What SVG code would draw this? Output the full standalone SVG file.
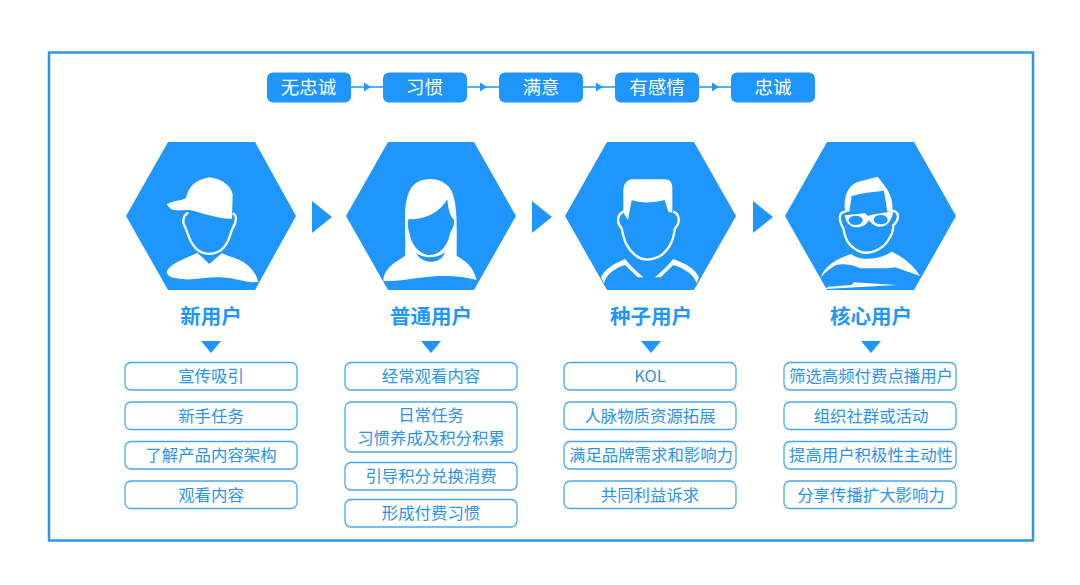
<svg xmlns="http://www.w3.org/2000/svg" width="1080" height="585" viewBox="0 0 1080 585">
<style>
text{font-family:"Noto Sans CJK SC","Noto Sans",sans-serif;text-anchor:middle}
.pill{fill:#1e96fc}
.pt{fill:#fff;font-size:18.500px}
.ttl{fill:#1e96fc;font-size:20.500px;font-weight:700}
.box{fill:#fff;stroke:#4aa8ee;stroke-width:1.300}
.it{fill:#2c94e8;font-size:16.400px}
.hex{fill:#1e96fc}
.w{fill:#fff}
.b{fill:#1e96fc}
.ring{fill:#1e96fc;stroke:#fff;stroke-width:7}
.tri{fill:#1e96fc}
.ln{stroke:#1e96fc;stroke-width:1.500;fill:none}
</style>
<rect x="49" y="52.500" width="984" height="488" fill="#fff" stroke="#2a9ae8" stroke-width="2.500"/>
<g id="connectors">
<path class="ln" d="M351 87H383M467 87H499M583 87H615M699 87H731"/>
<path class="tri" d="M364 82.500L371 87L364 91.500ZM480 82.500L487 87L480 91.500ZM596 82.500L603 87L596 91.500ZM712 82.500L719 87L712 91.500Z"/>
<path class="tri" d="M312 201L332 217L312 233ZM532 201L552 217L532 233ZM753 201L773 217L753 233Z"/>
<path class="tri" d="M201 341H221L211 353ZM421 341H441L431 353ZM641 341H661L651 353ZM861 341H881L871 353Z"/>
</g>
<g id="stage-1"><rect class="pill" x="267" y="72.500" width="84" height="30" rx="6"/><text class="pt" x="308.500" y="94">无忠诚</text></g>
<g id="stage-2"><rect class="pill" x="383" y="72.500" width="84" height="30" rx="6"/><text class="pt" x="424.500" y="94">习惯</text></g>
<g id="stage-3"><rect class="pill" x="499" y="72.500" width="84" height="30" rx="6"/><text class="pt" x="541" y="94">满意</text></g>
<g id="stage-4"><rect class="pill" x="615" y="72.500" width="84" height="30" rx="6"/><text class="pt" x="657" y="94">有感情</text></g>
<g id="stage-5"><rect class="pill" x="731" y="72.500" width="84" height="30" rx="6"/><text class="pt" x="773" y="94">忠诚</text></g>

<g id="new-user">
<path class="hex" d="M168 142H255L296 216L255 290H168L126 216Z"/>
<g transform="translate(120 130) scale(.3333)">
<path class="w" d="M140 425C150 400 190 390 232 368L268 402L305 370C340 385 395 390 415 455C380 462 360 445 300 442C260 440 210 455 170 445C150 442 140 435 140 425Z"/>
<path class="ring" d="M205 248C190 255 185 275 195 290C205 310 205 330 225 352C245 378 290 378 312 352C330 330 330 310 338 295C350 275 352 255 338 250"/>
<path class="w" d="M140 222C165 212 190 210 198 205C205 170 225 150 268 142C300 145 335 165 338 195L336 266C300 268 250 250 210 240C190 240 160 245 150 235Z"/>
</g>
<text class="ttl" x="211" y="324">新用户</text>
<rect class="box" x="125" y="362.500" width="172" height="27.500" rx="6"/><text class="it" x="211" y="382">宣传吸引</text>
<rect class="box" x="125" y="402" width="172" height="27.500" rx="6"/><text class="it" x="211" y="421.500">新手任务</text>
<rect class="box" x="125" y="441.500" width="172" height="27.500" rx="6"/><text class="it" x="211" y="461">了解产品内容架构</text>
<rect class="box" x="125" y="481" width="172" height="27.500" rx="6"/><text class="it" x="211" y="500.500">观看内容</text>
</g>

<g id="regular-user">
<path class="hex" d="M388 142H474L516 216L474 290H388L346 216Z"/>
<g transform="translate(120 130) scale(.3333)">
<path class="w" d="M790 450C795 410 830 395 855 378C860 300 845 230 870 180C890 140 960 135 990 175C1015 210 1010 300 1010 378C1040 395 1060 410 1070 450C1020 435 960 435 900 443C860 448 820 455 790 452Z"/>
<path class="b" d="M865 268C920 270 960 245 982 208C985 240 990 260 1003 270C1003 290 995 300 990 310C985 345 960 375 930 375C900 375 875 345 870 315C865 300 862 285 865 268Z"/>
<path class="b" d="M888 368C905 385 950 388 975 366C965 405 905 405 888 368Z"/>
</g>
<text class="ttl" x="431" y="324">普通用户</text>
<rect class="box" x="345" y="362.500" width="172" height="27.500" rx="6"/><text class="it" x="431" y="382">经常观看内容</text>
<rect class="box" x="345" y="402" width="172" height="50" rx="6" stroke-width="1.800"/><text class="it" x="431" y="421">日常任务</text><text class="it" x="431" y="444">习惯养成及积分积累</text>
<rect class="box" x="345" y="462.500" width="172" height="27.500" rx="6"/><text class="it" x="431" y="482">引导积分兑换消费</text>
<rect class="box" x="345" y="499.500" width="172" height="27.500" rx="6"/><text class="it" x="431" y="519">形成付费习惯</text>
</g>

<g id="seed-user">
<path class="hex" d="M607 142H694L736 216L694 290H607L565 216Z"/>
<g transform="translate(590 170) scale(.3333)">
<path class="w" d="M33 322C45 295 75 280 105 267L130 295L160 322L143 322L105 285C75 295 50 310 42 340Z"/>
<path class="w" d="M327 322C315 295 285 280 250 267L225 295L195 322L212 322L250 285C280 295 310 310 320 340Z"/>
<path class="ring" d="M100 125C80 135 80 160 95 175C102 205 105 230 135 255C160 275 190 270 215 255C245 230 250 205 255 175C270 160 272 135 250 125"/>
<path class="w" d="M100 60C102 35 115 28 130 28L225 28C240 28 247 38 247 55L247 128L235 125L224 90C190 100 150 100 125 90L114 150L100 128Z"/>
</g>
<text class="ttl" x="651" y="324">种子用户</text>
<rect class="box" x="564" y="362.500" width="172" height="27.500" rx="6"/><text class="it" x="650" y="382">KOL</text>
<rect class="box" x="564" y="402" width="172" height="27.500" rx="6"/><text class="it" x="650" y="421.500">人脉物质资源拓展</text>
<rect class="box" x="564" y="441.500" width="172" height="27.500" rx="6"/><text class="it" x="651" y="461">满足品牌需求和影响力</text>
<rect class="box" x="564" y="481" width="172" height="27.500" rx="6"/><text class="it" x="650" y="500.500">共同利益诉求</text>
</g>

<g id="core-user">
<path class="hex" d="M827 142H914L956 216L914 290H827L785 216Z"/>
<g transform="translate(810 170) scale(.3333)">
<path class="w" d="M32 325C40 290 80 265 125 252C140 270 200 275 245 245C280 262 310 285 330 318L255 292L235 295L150 295C130 285 100 280 78 285C55 300 40 310 32 325Z"/>
<path class="w" d="M45 357L260 345L132 337L125 345L55 350Z"/>
<path class="ring" d="M108 125C85 125 85 150 100 175C105 205 115 230 150 245C175 255 215 240 232 215C245 195 250 185 250 165C268 150 270 125 247 122" stroke-width="6"/>
<path class="w" d="M105 125C100 75 115 45 145 35L203 20L222 45C243 70 250 100 247 125L232 125L222 62C190 65 150 70 125 78L118 125Z"/>
<path class="w" d="M104 136L165 130L175 138L185 134L250 124C245 150 235 170 210 170C195 170 183 160 177 150C172 162 158 172 138 172C118 172 106 155 104 136Z"/>
<ellipse class="b" cx="137" cy="151" rx="21" ry="14"/><ellipse class="b" cx="212" cy="149" rx="21" ry="14"/>
</g>
<text class="ttl" x="871" y="324">核心用户</text>
<rect class="box" x="784" y="362.500" width="172" height="27.500" rx="6"/><text class="it" x="871" y="382">筛选高频付费点播用户</text>
<rect class="box" x="784" y="402" width="172" height="27.500" rx="6"/><text class="it" x="871" y="421.500">组织社群或活动</text>
<rect class="box" x="784" y="441.500" width="172" height="27.500" rx="6"/><text class="it" x="871" y="461">提高用户积极性主动性</text>
<rect class="box" x="784" y="481" width="172" height="27.500" rx="6"/><text class="it" x="871" y="500.500">分享传播扩大影响力</text>
</g>
</svg>
